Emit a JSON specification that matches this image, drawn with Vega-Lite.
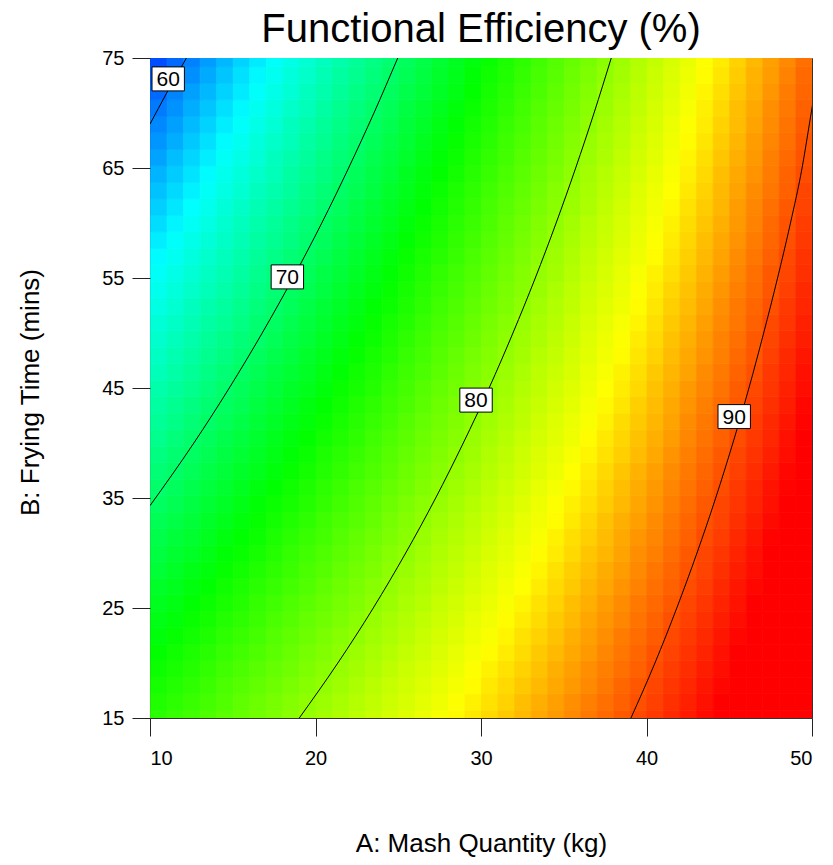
{
"$schema":"https://vega.github.io/schema/vega-lite/v6.json",
"width":662,"height":660,"autosize":"none",
"padding":{"left":150,"top":58,"right":21,"bottom":147},
"background":"white",
"title":{"text":"Functional Efficiency (%)","font":"Liberation Sans","fontSize":40,"fontWeight":"normal","color":"black","anchor":"middle","frame":"group","offset":-2},
"config":{"view":{"stroke":"#333","strokeWidth":1},
"axis":{"labelFont":"Liberation Sans","labelFontSize":20,"labelColor":"black","titleFont":"Liberation Sans","titleFontSize":26,"titleFontWeight":"normal","titleColor":"black","tickColor":"#222","tickSize":18,"domain":false,"grid":false}},
"datasets":{
"grid":[
{"a":10.5,"b":15,"e":75.7},{"a":11.5,"b":15,"e":76.2},{"a":12.5,"b":15,"e":76.7},{"a":13.5,"b":15,"e":77.2},{"a":14.5,"b":15,"e":77.7},{"a":15.5,"b":15,"e":78.2},{"a":16.5,"b":15,"e":78.7},{"a":17.5,"b":15,"e":79.2},{"a":18.5,"b":15,"e":79.7},{"a":19.5,"b":15,"e":80.2},{"a":20.5,"b":15,"e":80.7},{"a":21.5,"b":15,"e":81.2},{"a":22.5,"b":15,"e":81.7},{"a":23.5,"b":15,"e":82.2},{"a":24.5,"b":15,"e":82.7},{"a":25.5,"b":15,"e":83.2},{"a":26.5,"b":15,"e":83.7},{"a":27.5,"b":15,"e":84.2},{"a":28.5,"b":15,"e":84.7},{"a":29.5,"b":15,"e":85.2},{"a":30.5,"b":15,"e":85.7},{"a":31.5,"b":15,"e":86.2},{"a":32.5,"b":15,"e":86.7},{"a":33.5,"b":15,"e":87.2},{"a":34.5,"b":15,"e":87.7},{"a":35.5,"b":15,"e":88.2},{"a":36.5,"b":15,"e":88.7},{"a":37.5,"b":15,"e":89.2},{"a":38.5,"b":15,"e":89.7},{"a":39.5,"b":15,"e":90.2},{"a":40.5,"b":15,"e":90.7},{"a":41.5,"b":15,"e":91.2},{"a":42.5,"b":15,"e":91.7},{"a":43.5,"b":15,"e":92.2},{"a":44.5,"b":15,"e":92.7},{"a":45.5,"b":15,"e":93.2},{"a":46.5,"b":15,"e":93.7},{"a":47.5,"b":15,"e":94.2},{"a":48.5,"b":15,"e":94.7},{"a":49.5,"b":15,"e":95.2},
{"a":10.5,"b":16.5,"e":75.3},{"a":11.5,"b":16.5,"e":75.8},{"a":12.5,"b":16.5,"e":76.3},{"a":13.5,"b":16.5,"e":76.8},{"a":14.5,"b":16.5,"e":77.3},{"a":15.5,"b":16.5,"e":77.9},{"a":16.5,"b":16.5,"e":78.4},{"a":17.5,"b":16.5,"e":78.9},{"a":18.5,"b":16.5,"e":79.4},{"a":19.5,"b":16.5,"e":79.9},{"a":20.5,"b":16.5,"e":80.4},{"a":21.5,"b":16.5,"e":80.9},{"a":22.5,"b":16.5,"e":81.4},{"a":23.5,"b":16.5,"e":81.9},{"a":24.5,"b":16.5,"e":82.4},{"a":25.5,"b":16.5,"e":82.9},{"a":26.5,"b":16.5,"e":83.4},{"a":27.5,"b":16.5,"e":83.9},{"a":28.5,"b":16.5,"e":84.4},{"a":29.5,"b":16.5,"e":84.9},{"a":30.5,"b":16.5,"e":85.4},{"a":31.5,"b":16.5,"e":85.9},{"a":32.5,"b":16.5,"e":86.5},{"a":33.5,"b":16.5,"e":87.0},{"a":34.5,"b":16.5,"e":87.5},{"a":35.5,"b":16.5,"e":88.0},{"a":36.5,"b":16.5,"e":88.5},{"a":37.5,"b":16.5,"e":89.0},{"a":38.5,"b":16.5,"e":89.5},{"a":39.5,"b":16.5,"e":90.0},{"a":40.5,"b":16.5,"e":90.5},{"a":41.5,"b":16.5,"e":91.0},{"a":42.5,"b":16.5,"e":91.5},{"a":43.5,"b":16.5,"e":92.0},{"a":44.5,"b":16.5,"e":92.5},{"a":45.5,"b":16.5,"e":93.0},{"a":46.5,"b":16.5,"e":93.5},{"a":47.5,"b":16.5,"e":94.0},{"a":48.5,"b":16.5,"e":94.5},{"a":49.5,"b":16.5,"e":95.1},
{"a":10.5,"b":18,"e":74.9},{"a":11.5,"b":18,"e":75.4},{"a":12.5,"b":18,"e":75.9},{"a":13.5,"b":18,"e":76.4},{"a":14.5,"b":18,"e":77.0},{"a":15.5,"b":18,"e":77.5},{"a":16.5,"b":18,"e":78.0},{"a":17.5,"b":18,"e":78.5},{"a":18.5,"b":18,"e":79.0},{"a":19.5,"b":18,"e":79.5},{"a":20.5,"b":18,"e":80.0},{"a":21.5,"b":18,"e":80.5},{"a":22.5,"b":18,"e":81.1},{"a":23.5,"b":18,"e":81.6},{"a":24.5,"b":18,"e":82.1},{"a":25.5,"b":18,"e":82.6},{"a":26.5,"b":18,"e":83.1},{"a":27.5,"b":18,"e":83.6},{"a":28.5,"b":18,"e":84.1},{"a":29.5,"b":18,"e":84.6},{"a":30.5,"b":18,"e":85.2},{"a":31.5,"b":18,"e":85.7},{"a":32.5,"b":18,"e":86.2},{"a":33.5,"b":18,"e":86.7},{"a":34.5,"b":18,"e":87.2},{"a":35.5,"b":18,"e":87.7},{"a":36.5,"b":18,"e":88.2},{"a":37.5,"b":18,"e":88.7},{"a":38.5,"b":18,"e":89.3},{"a":39.5,"b":18,"e":89.8},{"a":40.5,"b":18,"e":90.3},{"a":41.5,"b":18,"e":90.8},{"a":42.5,"b":18,"e":91.3},{"a":43.5,"b":18,"e":91.8},{"a":44.5,"b":18,"e":92.3},{"a":45.5,"b":18,"e":92.8},{"a":46.5,"b":18,"e":93.4},{"a":47.5,"b":18,"e":93.9},{"a":48.5,"b":18,"e":94.4},{"a":49.5,"b":18,"e":94.9},
{"a":10.5,"b":19.5,"e":74.5},{"a":11.5,"b":19.5,"e":75.0},{"a":12.5,"b":19.5,"e":75.5},{"a":13.5,"b":19.5,"e":76.0},{"a":14.5,"b":19.5,"e":76.6},{"a":15.5,"b":19.5,"e":77.1},{"a":16.5,"b":19.5,"e":77.6},{"a":17.5,"b":19.5,"e":78.1},{"a":18.5,"b":19.5,"e":78.6},{"a":19.5,"b":19.5,"e":79.2},{"a":20.5,"b":19.5,"e":79.7},{"a":21.5,"b":19.5,"e":80.2},{"a":22.5,"b":19.5,"e":80.7},{"a":23.5,"b":19.5,"e":81.2},{"a":24.5,"b":19.5,"e":81.8},{"a":25.5,"b":19.5,"e":82.3},{"a":26.5,"b":19.5,"e":82.8},{"a":27.5,"b":19.5,"e":83.3},{"a":28.5,"b":19.5,"e":83.8},{"a":29.5,"b":19.5,"e":84.4},{"a":30.5,"b":19.5,"e":84.9},{"a":31.5,"b":19.5,"e":85.4},{"a":32.5,"b":19.5,"e":85.9},{"a":33.5,"b":19.5,"e":86.4},{"a":34.5,"b":19.5,"e":87.0},{"a":35.5,"b":19.5,"e":87.5},{"a":36.5,"b":19.5,"e":88.0},{"a":37.5,"b":19.5,"e":88.5},{"a":38.5,"b":19.5,"e":89.0},{"a":39.5,"b":19.5,"e":89.5},{"a":40.5,"b":19.5,"e":90.1},{"a":41.5,"b":19.5,"e":90.6},{"a":42.5,"b":19.5,"e":91.1},{"a":43.5,"b":19.5,"e":91.6},{"a":44.5,"b":19.5,"e":92.1},{"a":45.5,"b":19.5,"e":92.7},{"a":46.5,"b":19.5,"e":93.2},{"a":47.5,"b":19.5,"e":93.7},{"a":48.5,"b":19.5,"e":94.2},{"a":49.5,"b":19.5,"e":94.7},
{"a":10.5,"b":21,"e":74.1},{"a":11.5,"b":21,"e":74.6},{"a":12.5,"b":21,"e":75.1},{"a":13.5,"b":21,"e":75.6},{"a":14.5,"b":21,"e":76.2},{"a":15.5,"b":21,"e":76.7},{"a":16.5,"b":21,"e":77.2},{"a":17.5,"b":21,"e":77.7},{"a":18.5,"b":21,"e":78.3},{"a":19.5,"b":21,"e":78.8},{"a":20.5,"b":21,"e":79.3},{"a":21.5,"b":21,"e":79.8},{"a":22.5,"b":21,"e":80.4},{"a":23.5,"b":21,"e":80.9},{"a":24.5,"b":21,"e":81.4},{"a":25.5,"b":21,"e":82.0},{"a":26.5,"b":21,"e":82.5},{"a":27.5,"b":21,"e":83.0},{"a":28.5,"b":21,"e":83.5},{"a":29.5,"b":21,"e":84.1},{"a":30.5,"b":21,"e":84.6},{"a":31.5,"b":21,"e":85.1},{"a":32.5,"b":21,"e":85.6},{"a":33.5,"b":21,"e":86.2},{"a":34.5,"b":21,"e":86.7},{"a":35.5,"b":21,"e":87.2},{"a":36.5,"b":21,"e":87.7},{"a":37.5,"b":21,"e":88.3},{"a":38.5,"b":21,"e":88.8},{"a":39.5,"b":21,"e":89.3},{"a":40.5,"b":21,"e":89.9},{"a":41.5,"b":21,"e":90.4},{"a":42.5,"b":21,"e":90.9},{"a":43.5,"b":21,"e":91.4},{"a":44.5,"b":21,"e":92.0},{"a":45.5,"b":21,"e":92.5},{"a":46.5,"b":21,"e":93.0},{"a":47.5,"b":21,"e":93.5},{"a":48.5,"b":21,"e":94.1},{"a":49.5,"b":21,"e":94.6},
{"a":10.5,"b":22.5,"e":73.6},{"a":11.5,"b":22.5,"e":74.2},{"a":12.5,"b":22.5,"e":74.7},{"a":13.5,"b":22.5,"e":75.2},{"a":14.5,"b":22.5,"e":75.8},{"a":15.5,"b":22.5,"e":76.3},{"a":16.5,"b":22.5,"e":76.8},{"a":17.5,"b":22.5,"e":77.4},{"a":18.5,"b":22.5,"e":77.9},{"a":19.5,"b":22.5,"e":78.4},{"a":20.5,"b":22.5,"e":79.0},{"a":21.5,"b":22.5,"e":79.5},{"a":22.5,"b":22.5,"e":80.0},{"a":23.5,"b":22.5,"e":80.6},{"a":24.5,"b":22.5,"e":81.1},{"a":25.5,"b":22.5,"e":81.6},{"a":26.5,"b":22.5,"e":82.2},{"a":27.5,"b":22.5,"e":82.7},{"a":28.5,"b":22.5,"e":83.2},{"a":29.5,"b":22.5,"e":83.8},{"a":30.5,"b":22.5,"e":84.3},{"a":31.5,"b":22.5,"e":84.8},{"a":32.5,"b":22.5,"e":85.4},{"a":33.5,"b":22.5,"e":85.9},{"a":34.5,"b":22.5,"e":86.4},{"a":35.5,"b":22.5,"e":87.0},{"a":36.5,"b":22.5,"e":87.5},{"a":37.5,"b":22.5,"e":88.0},{"a":38.5,"b":22.5,"e":88.6},{"a":39.5,"b":22.5,"e":89.1},{"a":40.5,"b":22.5,"e":89.6},{"a":41.5,"b":22.5,"e":90.2},{"a":42.5,"b":22.5,"e":90.7},{"a":43.5,"b":22.5,"e":91.2},{"a":44.5,"b":22.5,"e":91.8},{"a":45.5,"b":22.5,"e":92.3},{"a":46.5,"b":22.5,"e":92.8},{"a":47.5,"b":22.5,"e":93.4},{"a":48.5,"b":22.5,"e":93.9},{"a":49.5,"b":22.5,"e":94.4},
{"a":10.5,"b":24,"e":73.2},{"a":11.5,"b":24,"e":73.7},{"a":12.5,"b":24,"e":74.3},{"a":13.5,"b":24,"e":74.8},{"a":14.5,"b":24,"e":75.4},{"a":15.5,"b":24,"e":75.9},{"a":16.5,"b":24,"e":76.4},{"a":17.5,"b":24,"e":77.0},{"a":18.5,"b":24,"e":77.5},{"a":19.5,"b":24,"e":78.1},{"a":20.5,"b":24,"e":78.6},{"a":21.5,"b":24,"e":79.1},{"a":22.5,"b":24,"e":79.7},{"a":23.5,"b":24,"e":80.2},{"a":24.5,"b":24,"e":80.8},{"a":25.5,"b":24,"e":81.3},{"a":26.5,"b":24,"e":81.9},{"a":27.5,"b":24,"e":82.4},{"a":28.5,"b":24,"e":82.9},{"a":29.5,"b":24,"e":83.5},{"a":30.5,"b":24,"e":84.0},{"a":31.5,"b":24,"e":84.6},{"a":32.5,"b":24,"e":85.1},{"a":33.5,"b":24,"e":85.6},{"a":34.5,"b":24,"e":86.2},{"a":35.5,"b":24,"e":86.7},{"a":36.5,"b":24,"e":87.3},{"a":37.5,"b":24,"e":87.8},{"a":38.5,"b":24,"e":88.3},{"a":39.5,"b":24,"e":88.9},{"a":40.5,"b":24,"e":89.4},{"a":41.5,"b":24,"e":90.0},{"a":42.5,"b":24,"e":90.5},{"a":43.5,"b":24,"e":91.0},{"a":44.5,"b":24,"e":91.6},{"a":45.5,"b":24,"e":92.1},{"a":46.5,"b":24,"e":92.7},{"a":47.5,"b":24,"e":93.2},{"a":48.5,"b":24,"e":93.7},{"a":49.5,"b":24,"e":94.3},
{"a":10.5,"b":25.5,"e":72.8},{"a":11.5,"b":25.5,"e":73.3},{"a":12.5,"b":25.5,"e":73.9},{"a":13.5,"b":25.5,"e":74.4},{"a":14.5,"b":25.5,"e":75.0},{"a":15.5,"b":25.5,"e":75.5},{"a":16.5,"b":25.5,"e":76.1},{"a":17.5,"b":25.5,"e":76.6},{"a":18.5,"b":25.5,"e":77.2},{"a":19.5,"b":25.5,"e":77.7},{"a":20.5,"b":25.5,"e":78.3},{"a":21.5,"b":25.5,"e":78.8},{"a":22.5,"b":25.5,"e":79.3},{"a":23.5,"b":25.5,"e":79.9},{"a":24.5,"b":25.5,"e":80.4},{"a":25.5,"b":25.5,"e":81.0},{"a":26.5,"b":25.5,"e":81.5},{"a":27.5,"b":25.5,"e":82.1},{"a":28.5,"b":25.5,"e":82.6},{"a":29.5,"b":25.5,"e":83.2},{"a":30.5,"b":25.5,"e":83.7},{"a":31.5,"b":25.5,"e":84.3},{"a":32.5,"b":25.5,"e":84.8},{"a":33.5,"b":25.5,"e":85.4},{"a":34.5,"b":25.5,"e":85.9},{"a":35.5,"b":25.5,"e":86.5},{"a":36.5,"b":25.5,"e":87.0},{"a":37.5,"b":25.5,"e":87.6},{"a":38.5,"b":25.5,"e":88.1},{"a":39.5,"b":25.5,"e":88.7},{"a":40.5,"b":25.5,"e":89.2},{"a":41.5,"b":25.5,"e":89.7},{"a":42.5,"b":25.5,"e":90.3},{"a":43.5,"b":25.5,"e":90.8},{"a":44.5,"b":25.5,"e":91.4},{"a":45.5,"b":25.5,"e":91.9},{"a":46.5,"b":25.5,"e":92.5},{"a":47.5,"b":25.5,"e":93.0},{"a":48.5,"b":25.5,"e":93.6},{"a":49.5,"b":25.5,"e":94.1},
{"a":10.5,"b":27,"e":72.4},{"a":11.5,"b":27,"e":72.9},{"a":12.5,"b":27,"e":73.5},{"a":13.5,"b":27,"e":74.0},{"a":14.5,"b":27,"e":74.6},{"a":15.5,"b":27,"e":75.1},{"a":16.5,"b":27,"e":75.7},{"a":17.5,"b":27,"e":76.2},{"a":18.5,"b":27,"e":76.8},{"a":19.5,"b":27,"e":77.3},{"a":20.5,"b":27,"e":77.9},{"a":21.5,"b":27,"e":78.5},{"a":22.5,"b":27,"e":79.0},{"a":23.5,"b":27,"e":79.6},{"a":24.5,"b":27,"e":80.1},{"a":25.5,"b":27,"e":80.7},{"a":26.5,"b":27,"e":81.2},{"a":27.5,"b":27,"e":81.8},{"a":28.5,"b":27,"e":82.3},{"a":29.5,"b":27,"e":82.9},{"a":30.5,"b":27,"e":83.4},{"a":31.5,"b":27,"e":84.0},{"a":32.5,"b":27,"e":84.5},{"a":33.5,"b":27,"e":85.1},{"a":34.5,"b":27,"e":85.7},{"a":35.5,"b":27,"e":86.2},{"a":36.5,"b":27,"e":86.8},{"a":37.5,"b":27,"e":87.3},{"a":38.5,"b":27,"e":87.9},{"a":39.5,"b":27,"e":88.4},{"a":40.5,"b":27,"e":89.0},{"a":41.5,"b":27,"e":89.5},{"a":42.5,"b":27,"e":90.1},{"a":43.5,"b":27,"e":90.6},{"a":44.5,"b":27,"e":91.2},{"a":45.5,"b":27,"e":91.8},{"a":46.5,"b":27,"e":92.3},{"a":47.5,"b":27,"e":92.9},{"a":48.5,"b":27,"e":93.4},{"a":49.5,"b":27,"e":94.0},
{"a":10.5,"b":28.5,"e":71.9},{"a":11.5,"b":28.5,"e":72.5},{"a":12.5,"b":28.5,"e":73.1},{"a":13.5,"b":28.5,"e":73.6},{"a":14.5,"b":28.5,"e":74.2},{"a":15.5,"b":28.5,"e":74.7},{"a":16.5,"b":28.5,"e":75.3},{"a":17.5,"b":28.5,"e":75.9},{"a":18.5,"b":28.5,"e":76.4},{"a":19.5,"b":28.5,"e":77.0},{"a":20.5,"b":28.5,"e":77.5},{"a":21.5,"b":28.5,"e":78.1},{"a":22.5,"b":28.5,"e":78.7},{"a":23.5,"b":28.5,"e":79.2},{"a":24.5,"b":28.5,"e":79.8},{"a":25.5,"b":28.5,"e":80.3},{"a":26.5,"b":28.5,"e":80.9},{"a":27.5,"b":28.5,"e":81.5},{"a":28.5,"b":28.5,"e":82.0},{"a":29.5,"b":28.5,"e":82.6},{"a":30.5,"b":28.5,"e":83.2},{"a":31.5,"b":28.5,"e":83.7},{"a":32.5,"b":28.5,"e":84.3},{"a":33.5,"b":28.5,"e":84.8},{"a":34.5,"b":28.5,"e":85.4},{"a":35.5,"b":28.5,"e":86.0},{"a":36.5,"b":28.5,"e":86.5},{"a":37.5,"b":28.5,"e":87.1},{"a":38.5,"b":28.5,"e":87.6},{"a":39.5,"b":28.5,"e":88.2},{"a":40.5,"b":28.5,"e":88.8},{"a":41.5,"b":28.5,"e":89.3},{"a":42.5,"b":28.5,"e":89.9},{"a":43.5,"b":28.5,"e":90.4},{"a":44.5,"b":28.5,"e":91.0},{"a":45.5,"b":28.5,"e":91.6},{"a":46.5,"b":28.5,"e":92.1},{"a":47.5,"b":28.5,"e":92.7},{"a":48.5,"b":28.5,"e":93.3},{"a":49.5,"b":28.5,"e":93.8},
{"a":10.5,"b":30,"e":71.5},{"a":11.5,"b":30,"e":72.1},{"a":12.5,"b":30,"e":72.6},{"a":13.5,"b":30,"e":73.2},{"a":14.5,"b":30,"e":73.8},{"a":15.5,"b":30,"e":74.3},{"a":16.5,"b":30,"e":74.9},{"a":17.5,"b":30,"e":75.5},{"a":18.5,"b":30,"e":76.1},{"a":19.5,"b":30,"e":76.6},{"a":20.5,"b":30,"e":77.2},{"a":21.5,"b":30,"e":77.8},{"a":22.5,"b":30,"e":78.3},{"a":23.5,"b":30,"e":78.9},{"a":24.5,"b":30,"e":79.5},{"a":25.5,"b":30,"e":80.0},{"a":26.5,"b":30,"e":80.6},{"a":27.5,"b":30,"e":81.2},{"a":28.5,"b":30,"e":81.7},{"a":29.5,"b":30,"e":82.3},{"a":30.5,"b":30,"e":82.9},{"a":31.5,"b":30,"e":83.4},{"a":32.5,"b":30,"e":84.0},{"a":33.5,"b":30,"e":84.6},{"a":34.5,"b":30,"e":85.1},{"a":35.5,"b":30,"e":85.7},{"a":36.5,"b":30,"e":86.3},{"a":37.5,"b":30,"e":86.8},{"a":38.5,"b":30,"e":87.4},{"a":39.5,"b":30,"e":88.0},{"a":40.5,"b":30,"e":88.5},{"a":41.5,"b":30,"e":89.1},{"a":42.5,"b":30,"e":89.7},{"a":43.5,"b":30,"e":90.3},{"a":44.5,"b":30,"e":90.8},{"a":45.5,"b":30,"e":91.4},{"a":46.5,"b":30,"e":92.0},{"a":47.5,"b":30,"e":92.5},{"a":48.5,"b":30,"e":93.1},{"a":49.5,"b":30,"e":93.7},
{"a":10.5,"b":31.5,"e":71.1},{"a":11.5,"b":31.5,"e":71.7},{"a":12.5,"b":31.5,"e":72.2},{"a":13.5,"b":31.5,"e":72.8},{"a":14.5,"b":31.5,"e":73.4},{"a":15.5,"b":31.5,"e":74.0},{"a":16.5,"b":31.5,"e":74.5},{"a":17.5,"b":31.5,"e":75.1},{"a":18.5,"b":31.5,"e":75.7},{"a":19.5,"b":31.5,"e":76.3},{"a":20.5,"b":31.5,"e":76.8},{"a":21.5,"b":31.5,"e":77.4},{"a":22.5,"b":31.5,"e":78.0},{"a":23.5,"b":31.5,"e":78.6},{"a":24.5,"b":31.5,"e":79.1},{"a":25.5,"b":31.5,"e":79.7},{"a":26.5,"b":31.5,"e":80.3},{"a":27.5,"b":31.5,"e":80.9},{"a":28.5,"b":31.5,"e":81.4},{"a":29.5,"b":31.5,"e":82.0},{"a":30.5,"b":31.5,"e":82.6},{"a":31.5,"b":31.5,"e":83.2},{"a":32.5,"b":31.5,"e":83.7},{"a":33.5,"b":31.5,"e":84.3},{"a":34.5,"b":31.5,"e":84.9},{"a":35.5,"b":31.5,"e":85.5},{"a":36.5,"b":31.5,"e":86.0},{"a":37.5,"b":31.5,"e":86.6},{"a":38.5,"b":31.5,"e":87.2},{"a":39.5,"b":31.5,"e":87.8},{"a":40.5,"b":31.5,"e":88.3},{"a":41.5,"b":31.5,"e":88.9},{"a":42.5,"b":31.5,"e":89.5},{"a":43.5,"b":31.5,"e":90.1},{"a":44.5,"b":31.5,"e":90.6},{"a":45.5,"b":31.5,"e":91.2},{"a":46.5,"b":31.5,"e":91.8},{"a":47.5,"b":31.5,"e":92.4},{"a":48.5,"b":31.5,"e":92.9},{"a":49.5,"b":31.5,"e":93.5},
{"a":10.5,"b":33,"e":70.7},{"a":11.5,"b":33,"e":71.2},{"a":12.5,"b":33,"e":71.8},{"a":13.5,"b":33,"e":72.4},{"a":14.5,"b":33,"e":73.0},{"a":15.5,"b":33,"e":73.6},{"a":16.5,"b":33,"e":74.2},{"a":17.5,"b":33,"e":74.7},{"a":18.5,"b":33,"e":75.3},{"a":19.5,"b":33,"e":75.9},{"a":20.5,"b":33,"e":76.5},{"a":21.5,"b":33,"e":77.1},{"a":22.5,"b":33,"e":77.6},{"a":23.5,"b":33,"e":78.2},{"a":24.5,"b":33,"e":78.8},{"a":25.5,"b":33,"e":79.4},{"a":26.5,"b":33,"e":80.0},{"a":27.5,"b":33,"e":80.6},{"a":28.5,"b":33,"e":81.1},{"a":29.5,"b":33,"e":81.7},{"a":30.5,"b":33,"e":82.3},{"a":31.5,"b":33,"e":82.9},{"a":32.5,"b":33,"e":83.5},{"a":33.5,"b":33,"e":84.0},{"a":34.5,"b":33,"e":84.6},{"a":35.5,"b":33,"e":85.2},{"a":36.5,"b":33,"e":85.8},{"a":37.5,"b":33,"e":86.4},{"a":38.5,"b":33,"e":87.0},{"a":39.5,"b":33,"e":87.5},{"a":40.5,"b":33,"e":88.1},{"a":41.5,"b":33,"e":88.7},{"a":42.5,"b":33,"e":89.3},{"a":43.5,"b":33,"e":89.9},{"a":44.5,"b":33,"e":90.4},{"a":45.5,"b":33,"e":91.0},{"a":46.5,"b":33,"e":91.6},{"a":47.5,"b":33,"e":92.2},{"a":48.5,"b":33,"e":92.8},{"a":49.5,"b":33,"e":93.4},
{"a":10.5,"b":34.5,"e":70.2},{"a":11.5,"b":34.5,"e":70.8},{"a":12.5,"b":34.5,"e":71.4},{"a":13.5,"b":34.5,"e":72.0},{"a":14.5,"b":34.5,"e":72.6},{"a":15.5,"b":34.5,"e":73.2},{"a":16.5,"b":34.5,"e":73.8},{"a":17.5,"b":34.5,"e":74.4},{"a":18.5,"b":34.5,"e":74.9},{"a":19.5,"b":34.5,"e":75.5},{"a":20.5,"b":34.5,"e":76.1},{"a":21.5,"b":34.5,"e":76.7},{"a":22.5,"b":34.5,"e":77.3},{"a":23.5,"b":34.5,"e":77.9},{"a":24.5,"b":34.5,"e":78.5},{"a":25.5,"b":34.5,"e":79.1},{"a":26.5,"b":34.5,"e":79.7},{"a":27.5,"b":34.5,"e":80.2},{"a":28.5,"b":34.5,"e":80.8},{"a":29.5,"b":34.5,"e":81.4},{"a":30.5,"b":34.5,"e":82.0},{"a":31.5,"b":34.5,"e":82.6},{"a":32.5,"b":34.5,"e":83.2},{"a":33.5,"b":34.5,"e":83.8},{"a":34.5,"b":34.5,"e":84.4},{"a":35.5,"b":34.5,"e":85.0},{"a":36.5,"b":34.5,"e":85.5},{"a":37.5,"b":34.5,"e":86.1},{"a":38.5,"b":34.5,"e":86.7},{"a":39.5,"b":34.5,"e":87.3},{"a":40.5,"b":34.5,"e":87.9},{"a":41.5,"b":34.5,"e":88.5},{"a":42.5,"b":34.5,"e":89.1},{"a":43.5,"b":34.5,"e":89.7},{"a":44.5,"b":34.5,"e":90.3},{"a":45.5,"b":34.5,"e":90.8},{"a":46.5,"b":34.5,"e":91.4},{"a":47.5,"b":34.5,"e":92.0},{"a":48.5,"b":34.5,"e":92.6},{"a":49.5,"b":34.5,"e":93.2},
{"a":10.5,"b":36,"e":69.8},{"a":11.5,"b":36,"e":70.4},{"a":12.5,"b":36,"e":71.0},{"a":13.5,"b":36,"e":71.6},{"a":14.5,"b":36,"e":72.2},{"a":15.5,"b":36,"e":72.8},{"a":16.5,"b":36,"e":73.4},{"a":17.5,"b":36,"e":74.0},{"a":18.5,"b":36,"e":74.6},{"a":19.5,"b":36,"e":75.2},{"a":20.5,"b":36,"e":75.8},{"a":21.5,"b":36,"e":76.4},{"a":22.5,"b":36,"e":77.0},{"a":23.5,"b":36,"e":77.6},{"a":24.5,"b":36,"e":78.2},{"a":25.5,"b":36,"e":78.7},{"a":26.5,"b":36,"e":79.3},{"a":27.5,"b":36,"e":79.9},{"a":28.5,"b":36,"e":80.5},{"a":29.5,"b":36,"e":81.1},{"a":30.5,"b":36,"e":81.7},{"a":31.5,"b":36,"e":82.3},{"a":32.5,"b":36,"e":82.9},{"a":33.5,"b":36,"e":83.5},{"a":34.5,"b":36,"e":84.1},{"a":35.5,"b":36,"e":84.7},{"a":36.5,"b":36,"e":85.3},{"a":37.5,"b":36,"e":85.9},{"a":38.5,"b":36,"e":86.5},{"a":39.5,"b":36,"e":87.1},{"a":40.5,"b":36,"e":87.7},{"a":41.5,"b":36,"e":88.3},{"a":42.5,"b":36,"e":88.9},{"a":43.5,"b":36,"e":89.5},{"a":44.5,"b":36,"e":90.1},{"a":45.5,"b":36,"e":90.7},{"a":46.5,"b":36,"e":91.3},{"a":47.5,"b":36,"e":91.9},{"a":48.5,"b":36,"e":92.4},{"a":49.5,"b":36,"e":93.0},
{"a":10.5,"b":37.5,"e":69.4},{"a":11.5,"b":37.5,"e":70.0},{"a":12.5,"b":37.5,"e":70.6},{"a":13.5,"b":37.5,"e":71.2},{"a":14.5,"b":37.5,"e":71.8},{"a":15.5,"b":37.5,"e":72.4},{"a":16.5,"b":37.5,"e":73.0},{"a":17.5,"b":37.5,"e":73.6},{"a":18.5,"b":37.5,"e":74.2},{"a":19.5,"b":37.5,"e":74.8},{"a":20.5,"b":37.5,"e":75.4},{"a":21.5,"b":37.5,"e":76.0},{"a":22.5,"b":37.5,"e":76.6},{"a":23.5,"b":37.5,"e":77.2},{"a":24.5,"b":37.5,"e":77.8},{"a":25.5,"b":37.5,"e":78.4},{"a":26.5,"b":37.5,"e":79.0},{"a":27.5,"b":37.5,"e":79.6},{"a":28.5,"b":37.5,"e":80.2},{"a":29.5,"b":37.5,"e":80.8},{"a":30.5,"b":37.5,"e":81.4},{"a":31.5,"b":37.5,"e":82.0},{"a":32.5,"b":37.5,"e":82.6},{"a":33.5,"b":37.5,"e":83.2},{"a":34.5,"b":37.5,"e":83.8},{"a":35.5,"b":37.5,"e":84.5},{"a":36.5,"b":37.5,"e":85.1},{"a":37.5,"b":37.5,"e":85.7},{"a":38.5,"b":37.5,"e":86.3},{"a":39.5,"b":37.5,"e":86.9},{"a":40.5,"b":37.5,"e":87.5},{"a":41.5,"b":37.5,"e":88.1},{"a":42.5,"b":37.5,"e":88.7},{"a":43.5,"b":37.5,"e":89.3},{"a":44.5,"b":37.5,"e":89.9},{"a":45.5,"b":37.5,"e":90.5},{"a":46.5,"b":37.5,"e":91.1},{"a":47.5,"b":37.5,"e":91.7},{"a":48.5,"b":37.5,"e":92.3},{"a":49.5,"b":37.5,"e":92.9},
{"a":10.5,"b":39,"e":69.0},{"a":11.5,"b":39,"e":69.6},{"a":12.5,"b":39,"e":70.2},{"a":13.5,"b":39,"e":70.8},{"a":14.5,"b":39,"e":71.4},{"a":15.5,"b":39,"e":72.0},{"a":16.5,"b":39,"e":72.6},{"a":17.5,"b":39,"e":73.2},{"a":18.5,"b":39,"e":73.8},{"a":19.5,"b":39,"e":74.4},{"a":20.5,"b":39,"e":75.1},{"a":21.5,"b":39,"e":75.7},{"a":22.5,"b":39,"e":76.3},{"a":23.5,"b":39,"e":76.9},{"a":24.5,"b":39,"e":77.5},{"a":25.5,"b":39,"e":78.1},{"a":26.5,"b":39,"e":78.7},{"a":27.5,"b":39,"e":79.3},{"a":28.5,"b":39,"e":79.9},{"a":29.5,"b":39,"e":80.5},{"a":30.5,"b":39,"e":81.2},{"a":31.5,"b":39,"e":81.8},{"a":32.5,"b":39,"e":82.4},{"a":33.5,"b":39,"e":83.0},{"a":34.5,"b":39,"e":83.6},{"a":35.5,"b":39,"e":84.2},{"a":36.5,"b":39,"e":84.8},{"a":37.5,"b":39,"e":85.4},{"a":38.5,"b":39,"e":86.0},{"a":39.5,"b":39,"e":86.6},{"a":40.5,"b":39,"e":87.2},{"a":41.5,"b":39,"e":87.9},{"a":42.5,"b":39,"e":88.5},{"a":43.5,"b":39,"e":89.1},{"a":44.5,"b":39,"e":89.7},{"a":45.5,"b":39,"e":90.3},{"a":46.5,"b":39,"e":90.9},{"a":47.5,"b":39,"e":91.5},{"a":48.5,"b":39,"e":92.1},{"a":49.5,"b":39,"e":92.7},
{"a":10.5,"b":40.5,"e":68.5},{"a":11.5,"b":40.5,"e":69.2},{"a":12.5,"b":40.5,"e":69.8},{"a":13.5,"b":40.5,"e":70.4},{"a":14.5,"b":40.5,"e":71.0},{"a":15.5,"b":40.5,"e":71.6},{"a":16.5,"b":40.5,"e":72.2},{"a":17.5,"b":40.5,"e":72.9},{"a":18.5,"b":40.5,"e":73.5},{"a":19.5,"b":40.5,"e":74.1},{"a":20.5,"b":40.5,"e":74.7},{"a":21.5,"b":40.5,"e":75.3},{"a":22.5,"b":40.5,"e":75.9},{"a":23.5,"b":40.5,"e":76.6},{"a":24.5,"b":40.5,"e":77.2},{"a":25.5,"b":40.5,"e":77.8},{"a":26.5,"b":40.5,"e":78.4},{"a":27.5,"b":40.5,"e":79.0},{"a":28.5,"b":40.5,"e":79.6},{"a":29.5,"b":40.5,"e":80.3},{"a":30.5,"b":40.5,"e":80.9},{"a":31.5,"b":40.5,"e":81.5},{"a":32.5,"b":40.5,"e":82.1},{"a":33.5,"b":40.5,"e":82.7},{"a":34.5,"b":40.5,"e":83.3},{"a":35.5,"b":40.5,"e":83.9},{"a":36.5,"b":40.5,"e":84.6},{"a":37.5,"b":40.5,"e":85.2},{"a":38.5,"b":40.5,"e":85.8},{"a":39.5,"b":40.5,"e":86.4},{"a":40.5,"b":40.5,"e":87.0},{"a":41.5,"b":40.5,"e":87.6},{"a":42.5,"b":40.5,"e":88.3},{"a":43.5,"b":40.5,"e":88.9},{"a":44.5,"b":40.5,"e":89.5},{"a":45.5,"b":40.5,"e":90.1},{"a":46.5,"b":40.5,"e":90.7},{"a":47.5,"b":40.5,"e":91.3},{"a":48.5,"b":40.5,"e":92.0},{"a":49.5,"b":40.5,"e":92.6},
{"a":10.5,"b":42,"e":68.1},{"a":11.5,"b":42,"e":68.7},{"a":12.5,"b":42,"e":69.4},{"a":13.5,"b":42,"e":70.0},{"a":14.5,"b":42,"e":70.6},{"a":15.5,"b":42,"e":71.2},{"a":16.5,"b":42,"e":71.9},{"a":17.5,"b":42,"e":72.5},{"a":18.5,"b":42,"e":73.1},{"a":19.5,"b":42,"e":73.7},{"a":20.5,"b":42,"e":74.3},{"a":21.5,"b":42,"e":75.0},{"a":22.5,"b":42,"e":75.6},{"a":23.5,"b":42,"e":76.2},{"a":24.5,"b":42,"e":76.8},{"a":25.5,"b":42,"e":77.5},{"a":26.5,"b":42,"e":78.1},{"a":27.5,"b":42,"e":78.7},{"a":28.5,"b":42,"e":79.3},{"a":29.5,"b":42,"e":80.0},{"a":30.5,"b":42,"e":80.6},{"a":31.5,"b":42,"e":81.2},{"a":32.5,"b":42,"e":81.8},{"a":33.5,"b":42,"e":82.5},{"a":34.5,"b":42,"e":83.1},{"a":35.5,"b":42,"e":83.7},{"a":36.5,"b":42,"e":84.3},{"a":37.5,"b":42,"e":84.9},{"a":38.5,"b":42,"e":85.6},{"a":39.5,"b":42,"e":86.2},{"a":40.5,"b":42,"e":86.8},{"a":41.5,"b":42,"e":87.4},{"a":42.5,"b":42,"e":88.1},{"a":43.5,"b":42,"e":88.7},{"a":44.5,"b":42,"e":89.3},{"a":45.5,"b":42,"e":89.9},{"a":46.5,"b":42,"e":90.6},{"a":47.5,"b":42,"e":91.2},{"a":48.5,"b":42,"e":91.8},{"a":49.5,"b":42,"e":92.4},
{"a":10.5,"b":43.5,"e":67.7},{"a":11.5,"b":43.5,"e":68.3},{"a":12.5,"b":43.5,"e":69.0},{"a":13.5,"b":43.5,"e":69.6},{"a":14.5,"b":43.5,"e":70.2},{"a":15.5,"b":43.5,"e":70.8},{"a":16.5,"b":43.5,"e":71.5},{"a":17.5,"b":43.5,"e":72.1},{"a":18.5,"b":43.5,"e":72.7},{"a":19.5,"b":43.5,"e":73.4},{"a":20.5,"b":43.5,"e":74.0},{"a":21.5,"b":43.5,"e":74.6},{"a":22.5,"b":43.5,"e":75.3},{"a":23.5,"b":43.5,"e":75.9},{"a":24.5,"b":43.5,"e":76.5},{"a":25.5,"b":43.5,"e":77.1},{"a":26.5,"b":43.5,"e":77.8},{"a":27.5,"b":43.5,"e":78.4},{"a":28.5,"b":43.5,"e":79.0},{"a":29.5,"b":43.5,"e":79.7},{"a":30.5,"b":43.5,"e":80.3},{"a":31.5,"b":43.5,"e":80.9},{"a":32.5,"b":43.5,"e":81.6},{"a":33.5,"b":43.5,"e":82.2},{"a":34.5,"b":43.5,"e":82.8},{"a":35.5,"b":43.5,"e":83.4},{"a":36.5,"b":43.5,"e":84.1},{"a":37.5,"b":43.5,"e":84.7},{"a":38.5,"b":43.5,"e":85.3},{"a":39.5,"b":43.5,"e":86.0},{"a":40.5,"b":43.5,"e":86.6},{"a":41.5,"b":43.5,"e":87.2},{"a":42.5,"b":43.5,"e":87.9},{"a":43.5,"b":43.5,"e":88.5},{"a":44.5,"b":43.5,"e":89.1},{"a":45.5,"b":43.5,"e":89.7},{"a":46.5,"b":43.5,"e":90.4},{"a":47.5,"b":43.5,"e":91.0},{"a":48.5,"b":43.5,"e":91.6},{"a":49.5,"b":43.5,"e":92.3},
{"a":10.5,"b":45,"e":67.3},{"a":11.5,"b":45,"e":67.9},{"a":12.5,"b":45,"e":68.5},{"a":13.5,"b":45,"e":69.2},{"a":14.5,"b":45,"e":69.8},{"a":15.5,"b":45,"e":70.5},{"a":16.5,"b":45,"e":71.1},{"a":17.5,"b":45,"e":71.7},{"a":18.5,"b":45,"e":72.4},{"a":19.5,"b":45,"e":73.0},{"a":20.5,"b":45,"e":73.6},{"a":21.5,"b":45,"e":74.3},{"a":22.5,"b":45,"e":74.9},{"a":23.5,"b":45,"e":75.5},{"a":24.5,"b":45,"e":76.2},{"a":25.5,"b":45,"e":76.8},{"a":26.5,"b":45,"e":77.5},{"a":27.5,"b":45,"e":78.1},{"a":28.5,"b":45,"e":78.7},{"a":29.5,"b":45,"e":79.4},{"a":30.5,"b":45,"e":80.0},{"a":31.5,"b":45,"e":80.6},{"a":32.5,"b":45,"e":81.3},{"a":33.5,"b":45,"e":81.9},{"a":34.5,"b":45,"e":82.6},{"a":35.5,"b":45,"e":83.2},{"a":36.5,"b":45,"e":83.8},{"a":37.5,"b":45,"e":84.5},{"a":38.5,"b":45,"e":85.1},{"a":39.5,"b":45,"e":85.7},{"a":40.5,"b":45,"e":86.4},{"a":41.5,"b":45,"e":87.0},{"a":42.5,"b":45,"e":87.7},{"a":43.5,"b":45,"e":88.3},{"a":44.5,"b":45,"e":88.9},{"a":45.5,"b":45,"e":89.6},{"a":46.5,"b":45,"e":90.2},{"a":47.5,"b":45,"e":90.8},{"a":48.5,"b":45,"e":91.5},{"a":49.5,"b":45,"e":92.1},
{"a":10.5,"b":46.5,"e":66.8},{"a":11.5,"b":46.5,"e":67.5},{"a":12.5,"b":46.5,"e":68.1},{"a":13.5,"b":46.5,"e":68.8},{"a":14.5,"b":46.5,"e":69.4},{"a":15.5,"b":46.5,"e":70.1},{"a":16.5,"b":46.5,"e":70.7},{"a":17.5,"b":46.5,"e":71.4},{"a":18.5,"b":46.5,"e":72.0},{"a":19.5,"b":46.5,"e":72.6},{"a":20.5,"b":46.5,"e":73.3},{"a":21.5,"b":46.5,"e":73.9},{"a":22.5,"b":46.5,"e":74.6},{"a":23.5,"b":46.5,"e":75.2},{"a":24.5,"b":46.5,"e":75.9},{"a":25.5,"b":46.5,"e":76.5},{"a":26.5,"b":46.5,"e":77.1},{"a":27.5,"b":46.5,"e":77.8},{"a":28.5,"b":46.5,"e":78.4},{"a":29.5,"b":46.5,"e":79.1},{"a":30.5,"b":46.5,"e":79.7},{"a":31.5,"b":46.5,"e":80.4},{"a":32.5,"b":46.5,"e":81.0},{"a":33.5,"b":46.5,"e":81.7},{"a":34.5,"b":46.5,"e":82.3},{"a":35.5,"b":46.5,"e":82.9},{"a":36.5,"b":46.5,"e":83.6},{"a":37.5,"b":46.5,"e":84.2},{"a":38.5,"b":46.5,"e":84.9},{"a":39.5,"b":46.5,"e":85.5},{"a":40.5,"b":46.5,"e":86.2},{"a":41.5,"b":46.5,"e":86.8},{"a":42.5,"b":46.5,"e":87.4},{"a":43.5,"b":46.5,"e":88.1},{"a":44.5,"b":46.5,"e":88.7},{"a":45.5,"b":46.5,"e":89.4},{"a":46.5,"b":46.5,"e":90.0},{"a":47.5,"b":46.5,"e":90.7},{"a":48.5,"b":46.5,"e":91.3},{"a":49.5,"b":46.5,"e":92.0},
{"a":10.5,"b":48,"e":66.4},{"a":11.5,"b":48,"e":67.1},{"a":12.5,"b":48,"e":67.7},{"a":13.5,"b":48,"e":68.4},{"a":14.5,"b":48,"e":69.0},{"a":15.5,"b":48,"e":69.7},{"a":16.5,"b":48,"e":70.3},{"a":17.5,"b":48,"e":71.0},{"a":18.5,"b":48,"e":71.6},{"a":19.5,"b":48,"e":72.3},{"a":20.5,"b":48,"e":72.9},{"a":21.5,"b":48,"e":73.6},{"a":22.5,"b":48,"e":74.2},{"a":23.5,"b":48,"e":74.9},{"a":24.5,"b":48,"e":75.5},{"a":25.5,"b":48,"e":76.2},{"a":26.5,"b":48,"e":76.8},{"a":27.5,"b":48,"e":77.5},{"a":28.5,"b":48,"e":78.1},{"a":29.5,"b":48,"e":78.8},{"a":30.5,"b":48,"e":79.4},{"a":31.5,"b":48,"e":80.1},{"a":32.5,"b":48,"e":80.7},{"a":33.5,"b":48,"e":81.4},{"a":34.5,"b":48,"e":82.0},{"a":35.5,"b":48,"e":82.7},{"a":36.5,"b":48,"e":83.3},{"a":37.5,"b":48,"e":84.0},{"a":38.5,"b":48,"e":84.6},{"a":39.5,"b":48,"e":85.3},{"a":40.5,"b":48,"e":85.9},{"a":41.5,"b":48,"e":86.6},{"a":42.5,"b":48,"e":87.2},{"a":43.5,"b":48,"e":87.9},{"a":44.5,"b":48,"e":88.5},{"a":45.5,"b":48,"e":89.2},{"a":46.5,"b":48,"e":89.8},{"a":47.5,"b":48,"e":90.5},{"a":48.5,"b":48,"e":91.2},{"a":49.5,"b":48,"e":91.8},
{"a":10.5,"b":49.5,"e":66.0},{"a":11.5,"b":49.5,"e":66.7},{"a":12.5,"b":49.5,"e":67.3},{"a":13.5,"b":49.5,"e":68.0},{"a":14.5,"b":49.5,"e":68.6},{"a":15.5,"b":49.5,"e":69.3},{"a":16.5,"b":49.5,"e":69.9},{"a":17.5,"b":49.5,"e":70.6},{"a":18.5,"b":49.5,"e":71.3},{"a":19.5,"b":49.5,"e":71.9},{"a":20.5,"b":49.5,"e":72.6},{"a":21.5,"b":49.5,"e":73.2},{"a":22.5,"b":49.5,"e":73.9},{"a":23.5,"b":49.5,"e":74.5},{"a":24.5,"b":49.5,"e":75.2},{"a":25.5,"b":49.5,"e":75.9},{"a":26.5,"b":49.5,"e":76.5},{"a":27.5,"b":49.5,"e":77.2},{"a":28.5,"b":49.5,"e":77.8},{"a":29.5,"b":49.5,"e":78.5},{"a":30.5,"b":49.5,"e":79.2},{"a":31.5,"b":49.5,"e":79.8},{"a":32.5,"b":49.5,"e":80.5},{"a":33.5,"b":49.5,"e":81.1},{"a":34.5,"b":49.5,"e":81.8},{"a":35.5,"b":49.5,"e":82.4},{"a":36.5,"b":49.5,"e":83.1},{"a":37.5,"b":49.5,"e":83.8},{"a":38.5,"b":49.5,"e":84.4},{"a":39.5,"b":49.5,"e":85.1},{"a":40.5,"b":49.5,"e":85.7},{"a":41.5,"b":49.5,"e":86.4},{"a":42.5,"b":49.5,"e":87.0},{"a":43.5,"b":49.5,"e":87.7},{"a":44.5,"b":49.5,"e":88.4},{"a":45.5,"b":49.5,"e":89.0},{"a":46.5,"b":49.5,"e":89.7},{"a":47.5,"b":49.5,"e":90.3},{"a":48.5,"b":49.5,"e":91.0},{"a":49.5,"b":49.5,"e":91.6},
{"a":10.5,"b":51,"e":65.6},{"a":11.5,"b":51,"e":66.2},{"a":12.5,"b":51,"e":66.9},{"a":13.5,"b":51,"e":67.6},{"a":14.5,"b":51,"e":68.2},{"a":15.5,"b":51,"e":68.9},{"a":16.5,"b":51,"e":69.6},{"a":17.5,"b":51,"e":70.2},{"a":18.5,"b":51,"e":70.9},{"a":19.5,"b":51,"e":71.6},{"a":20.5,"b":51,"e":72.2},{"a":21.5,"b":51,"e":72.9},{"a":22.5,"b":51,"e":73.5},{"a":23.5,"b":51,"e":74.2},{"a":24.5,"b":51,"e":74.9},{"a":25.5,"b":51,"e":75.5},{"a":26.5,"b":51,"e":76.2},{"a":27.5,"b":51,"e":76.9},{"a":28.5,"b":51,"e":77.5},{"a":29.5,"b":51,"e":78.2},{"a":30.5,"b":51,"e":78.9},{"a":31.5,"b":51,"e":79.5},{"a":32.5,"b":51,"e":80.2},{"a":33.5,"b":51,"e":80.9},{"a":34.5,"b":51,"e":81.5},{"a":35.5,"b":51,"e":82.2},{"a":36.5,"b":51,"e":82.9},{"a":37.5,"b":51,"e":83.5},{"a":38.5,"b":51,"e":84.2},{"a":39.5,"b":51,"e":84.8},{"a":40.5,"b":51,"e":85.5},{"a":41.5,"b":51,"e":86.2},{"a":42.5,"b":51,"e":86.8},{"a":43.5,"b":51,"e":87.5},{"a":44.5,"b":51,"e":88.2},{"a":45.5,"b":51,"e":88.8},{"a":46.5,"b":51,"e":89.5},{"a":47.5,"b":51,"e":90.2},{"a":48.5,"b":51,"e":90.8},{"a":49.5,"b":51,"e":91.5},
{"a":10.5,"b":52.5,"e":65.1},{"a":11.5,"b":52.5,"e":65.8},{"a":12.5,"b":52.5,"e":66.5},{"a":13.5,"b":52.5,"e":67.2},{"a":14.5,"b":52.5,"e":67.8},{"a":15.5,"b":52.5,"e":68.5},{"a":16.5,"b":52.5,"e":69.2},{"a":17.5,"b":52.5,"e":69.8},{"a":18.5,"b":52.5,"e":70.5},{"a":19.5,"b":52.5,"e":71.2},{"a":20.5,"b":52.5,"e":71.9},{"a":21.5,"b":52.5,"e":72.5},{"a":22.5,"b":52.5,"e":73.2},{"a":23.5,"b":52.5,"e":73.9},{"a":24.5,"b":52.5,"e":74.5},{"a":25.5,"b":52.5,"e":75.2},{"a":26.5,"b":52.5,"e":75.9},{"a":27.5,"b":52.5,"e":76.6},{"a":28.5,"b":52.5,"e":77.2},{"a":29.5,"b":52.5,"e":77.9},{"a":30.5,"b":52.5,"e":78.6},{"a":31.5,"b":52.5,"e":79.2},{"a":32.5,"b":52.5,"e":79.9},{"a":33.5,"b":52.5,"e":80.6},{"a":34.5,"b":52.5,"e":81.3},{"a":35.5,"b":52.5,"e":81.9},{"a":36.5,"b":52.5,"e":82.6},{"a":37.5,"b":52.5,"e":83.3},{"a":38.5,"b":52.5,"e":83.9},{"a":39.5,"b":52.5,"e":84.6},{"a":40.5,"b":52.5,"e":85.3},{"a":41.5,"b":52.5,"e":86.0},{"a":42.5,"b":52.5,"e":86.6},{"a":43.5,"b":52.5,"e":87.3},{"a":44.5,"b":52.5,"e":88.0},{"a":45.5,"b":52.5,"e":88.7},{"a":46.5,"b":52.5,"e":89.3},{"a":47.5,"b":52.5,"e":90.0},{"a":48.5,"b":52.5,"e":90.7},{"a":49.5,"b":52.5,"e":91.3},
{"a":10.5,"b":54,"e":64.7},{"a":11.5,"b":54,"e":65.4},{"a":12.5,"b":54,"e":66.1},{"a":13.5,"b":54,"e":66.8},{"a":14.5,"b":54,"e":67.4},{"a":15.5,"b":54,"e":68.1},{"a":16.5,"b":54,"e":68.8},{"a":17.5,"b":54,"e":69.5},{"a":18.5,"b":54,"e":70.2},{"a":19.5,"b":54,"e":70.8},{"a":20.5,"b":54,"e":71.5},{"a":21.5,"b":54,"e":72.2},{"a":22.5,"b":54,"e":72.9},{"a":23.5,"b":54,"e":73.5},{"a":24.5,"b":54,"e":74.2},{"a":25.5,"b":54,"e":74.9},{"a":26.5,"b":54,"e":75.6},{"a":27.5,"b":54,"e":76.3},{"a":28.5,"b":54,"e":76.9},{"a":29.5,"b":54,"e":77.6},{"a":30.5,"b":54,"e":78.3},{"a":31.5,"b":54,"e":79.0},{"a":32.5,"b":54,"e":79.6},{"a":33.5,"b":54,"e":80.3},{"a":34.5,"b":54,"e":81.0},{"a":35.5,"b":54,"e":81.7},{"a":36.5,"b":54,"e":82.4},{"a":37.5,"b":54,"e":83.0},{"a":38.5,"b":54,"e":83.7},{"a":39.5,"b":54,"e":84.4},{"a":40.5,"b":54,"e":85.1},{"a":41.5,"b":54,"e":85.8},{"a":42.5,"b":54,"e":86.4},{"a":43.5,"b":54,"e":87.1},{"a":44.5,"b":54,"e":87.8},{"a":45.5,"b":54,"e":88.5},{"a":46.5,"b":54,"e":89.1},{"a":47.5,"b":54,"e":89.8},{"a":48.5,"b":54,"e":90.5},{"a":49.5,"b":54,"e":91.2},
{"a":10.5,"b":55.5,"e":64.3},{"a":11.5,"b":55.5,"e":65.0},{"a":12.5,"b":55.5,"e":65.7},{"a":13.5,"b":55.5,"e":66.4},{"a":14.5,"b":55.5,"e":67.0},{"a":15.5,"b":55.5,"e":67.7},{"a":16.5,"b":55.5,"e":68.4},{"a":17.5,"b":55.5,"e":69.1},{"a":18.5,"b":55.5,"e":69.8},{"a":19.5,"b":55.5,"e":70.5},{"a":20.5,"b":55.5,"e":71.2},{"a":21.5,"b":55.5,"e":71.8},{"a":22.5,"b":55.5,"e":72.5},{"a":23.5,"b":55.5,"e":73.2},{"a":24.5,"b":55.5,"e":73.9},{"a":25.5,"b":55.5,"e":74.6},{"a":26.5,"b":55.5,"e":75.3},{"a":27.5,"b":55.5,"e":76.0},{"a":28.5,"b":55.5,"e":76.6},{"a":29.5,"b":55.5,"e":77.3},{"a":30.5,"b":55.5,"e":78.0},{"a":31.5,"b":55.5,"e":78.7},{"a":32.5,"b":55.5,"e":79.4},{"a":33.5,"b":55.5,"e":80.1},{"a":34.5,"b":55.5,"e":80.7},{"a":35.5,"b":55.5,"e":81.4},{"a":36.5,"b":55.5,"e":82.1},{"a":37.5,"b":55.5,"e":82.8},{"a":38.5,"b":55.5,"e":83.5},{"a":39.5,"b":55.5,"e":84.2},{"a":40.5,"b":55.5,"e":84.9},{"a":41.5,"b":55.5,"e":85.5},{"a":42.5,"b":55.5,"e":86.2},{"a":43.5,"b":55.5,"e":86.9},{"a":44.5,"b":55.5,"e":87.6},{"a":45.5,"b":55.5,"e":88.3},{"a":46.5,"b":55.5,"e":89.0},{"a":47.5,"b":55.5,"e":89.7},{"a":48.5,"b":55.5,"e":90.3},{"a":49.5,"b":55.5,"e":91.0},
{"a":10.5,"b":57,"e":63.9},{"a":11.5,"b":57,"e":64.6},{"a":12.5,"b":57,"e":65.3},{"a":13.5,"b":57,"e":66.0},{"a":14.5,"b":57,"e":66.6},{"a":15.5,"b":57,"e":67.3},{"a":16.5,"b":57,"e":68.0},{"a":17.5,"b":57,"e":68.7},{"a":18.5,"b":57,"e":69.4},{"a":19.5,"b":57,"e":70.1},{"a":20.5,"b":57,"e":70.8},{"a":21.5,"b":57,"e":71.5},{"a":22.5,"b":57,"e":72.2},{"a":23.5,"b":57,"e":72.9},{"a":24.5,"b":57,"e":73.6},{"a":25.5,"b":57,"e":74.3},{"a":26.5,"b":57,"e":75.0},{"a":27.5,"b":57,"e":75.6},{"a":28.5,"b":57,"e":76.3},{"a":29.5,"b":57,"e":77.0},{"a":30.5,"b":57,"e":77.7},{"a":31.5,"b":57,"e":78.4},{"a":32.5,"b":57,"e":79.1},{"a":33.5,"b":57,"e":79.8},{"a":34.5,"b":57,"e":80.5},{"a":35.5,"b":57,"e":81.2},{"a":36.5,"b":57,"e":81.9},{"a":37.5,"b":57,"e":82.6},{"a":38.5,"b":57,"e":83.3},{"a":39.5,"b":57,"e":83.9},{"a":40.5,"b":57,"e":84.6},{"a":41.5,"b":57,"e":85.3},{"a":42.5,"b":57,"e":86.0},{"a":43.5,"b":57,"e":86.7},{"a":44.5,"b":57,"e":87.4},{"a":45.5,"b":57,"e":88.1},{"a":46.5,"b":57,"e":88.8},{"a":47.5,"b":57,"e":89.5},{"a":48.5,"b":57,"e":90.2},{"a":49.5,"b":57,"e":90.9},
{"a":10.5,"b":58.5,"e":63.5},{"a":11.5,"b":58.5,"e":64.2},{"a":12.5,"b":58.5,"e":64.9},{"a":13.5,"b":58.5,"e":65.5},{"a":14.5,"b":58.5,"e":66.2},{"a":15.5,"b":58.5,"e":66.9},{"a":16.5,"b":58.5,"e":67.6},{"a":17.5,"b":58.5,"e":68.3},{"a":18.5,"b":58.5,"e":69.0},{"a":19.5,"b":58.5,"e":69.7},{"a":20.5,"b":58.5,"e":70.4},{"a":21.5,"b":58.5,"e":71.1},{"a":22.5,"b":58.5,"e":71.8},{"a":23.5,"b":58.5,"e":72.5},{"a":24.5,"b":58.5,"e":73.2},{"a":25.5,"b":58.5,"e":73.9},{"a":26.5,"b":58.5,"e":74.6},{"a":27.5,"b":58.5,"e":75.3},{"a":28.5,"b":58.5,"e":76.0},{"a":29.5,"b":58.5,"e":76.7},{"a":30.5,"b":58.5,"e":77.4},{"a":31.5,"b":58.5,"e":78.1},{"a":32.5,"b":58.5,"e":78.8},{"a":33.5,"b":58.5,"e":79.5},{"a":34.5,"b":58.5,"e":80.2},{"a":35.5,"b":58.5,"e":80.9},{"a":36.5,"b":58.5,"e":81.6},{"a":37.5,"b":58.5,"e":82.3},{"a":38.5,"b":58.5,"e":83.0},{"a":39.5,"b":58.5,"e":83.7},{"a":40.5,"b":58.5,"e":84.4},{"a":41.5,"b":58.5,"e":85.1},{"a":42.5,"b":58.5,"e":85.8},{"a":43.5,"b":58.5,"e":86.5},{"a":44.5,"b":58.5,"e":87.2},{"a":45.5,"b":58.5,"e":87.9},{"a":46.5,"b":58.5,"e":88.6},{"a":47.5,"b":58.5,"e":89.3},{"a":48.5,"b":58.5,"e":90.0},{"a":49.5,"b":58.5,"e":90.7},
{"a":10.5,"b":60,"e":63.0},{"a":11.5,"b":60,"e":63.7},{"a":12.5,"b":60,"e":64.4},{"a":13.5,"b":60,"e":65.1},{"a":14.5,"b":60,"e":65.9},{"a":15.5,"b":60,"e":66.6},{"a":16.5,"b":60,"e":67.3},{"a":17.5,"b":60,"e":68.0},{"a":18.5,"b":60,"e":68.7},{"a":19.5,"b":60,"e":69.4},{"a":20.5,"b":60,"e":70.1},{"a":21.5,"b":60,"e":70.8},{"a":22.5,"b":60,"e":71.5},{"a":23.5,"b":60,"e":72.2},{"a":24.5,"b":60,"e":72.9},{"a":25.5,"b":60,"e":73.6},{"a":26.5,"b":60,"e":74.3},{"a":27.5,"b":60,"e":75.0},{"a":28.5,"b":60,"e":75.7},{"a":29.5,"b":60,"e":76.4},{"a":30.5,"b":60,"e":77.1},{"a":31.5,"b":60,"e":77.9},{"a":32.5,"b":60,"e":78.6},{"a":33.5,"b":60,"e":79.3},{"a":34.5,"b":60,"e":80.0},{"a":35.5,"b":60,"e":80.7},{"a":36.5,"b":60,"e":81.4},{"a":37.5,"b":60,"e":82.1},{"a":38.5,"b":60,"e":82.8},{"a":39.5,"b":60,"e":83.5},{"a":40.5,"b":60,"e":84.2},{"a":41.5,"b":60,"e":84.9},{"a":42.5,"b":60,"e":85.6},{"a":43.5,"b":60,"e":86.3},{"a":44.5,"b":60,"e":87.0},{"a":45.5,"b":60,"e":87.7},{"a":46.5,"b":60,"e":88.4},{"a":47.5,"b":60,"e":89.2},{"a":48.5,"b":60,"e":89.9},{"a":49.5,"b":60,"e":90.6},
{"a":10.5,"b":61.5,"e":62.6},{"a":11.5,"b":61.5,"e":63.3},{"a":12.5,"b":61.5,"e":64.0},{"a":13.5,"b":61.5,"e":64.7},{"a":14.5,"b":61.5,"e":65.5},{"a":15.5,"b":61.5,"e":66.2},{"a":16.5,"b":61.5,"e":66.9},{"a":17.5,"b":61.5,"e":67.6},{"a":18.5,"b":61.5,"e":68.3},{"a":19.5,"b":61.5,"e":69.0},{"a":20.5,"b":61.5,"e":69.7},{"a":21.5,"b":61.5,"e":70.4},{"a":22.5,"b":61.5,"e":71.2},{"a":23.5,"b":61.5,"e":71.9},{"a":24.5,"b":61.5,"e":72.6},{"a":25.5,"b":61.5,"e":73.3},{"a":26.5,"b":61.5,"e":74.0},{"a":27.5,"b":61.5,"e":74.7},{"a":28.5,"b":61.5,"e":75.4},{"a":29.5,"b":61.5,"e":76.1},{"a":30.5,"b":61.5,"e":76.9},{"a":31.5,"b":61.5,"e":77.6},{"a":32.5,"b":61.5,"e":78.3},{"a":33.5,"b":61.5,"e":79.0},{"a":34.5,"b":61.5,"e":79.7},{"a":35.5,"b":61.5,"e":80.4},{"a":36.5,"b":61.5,"e":81.1},{"a":37.5,"b":61.5,"e":81.9},{"a":38.5,"b":61.5,"e":82.6},{"a":39.5,"b":61.5,"e":83.3},{"a":40.5,"b":61.5,"e":84.0},{"a":41.5,"b":61.5,"e":84.7},{"a":42.5,"b":61.5,"e":85.4},{"a":43.5,"b":61.5,"e":86.1},{"a":44.5,"b":61.5,"e":86.8},{"a":45.5,"b":61.5,"e":87.6},{"a":46.5,"b":61.5,"e":88.3},{"a":47.5,"b":61.5,"e":89.0},{"a":48.5,"b":61.5,"e":89.7},{"a":49.5,"b":61.5,"e":90.4},
{"a":10.5,"b":63,"e":62.2},{"a":11.5,"b":63,"e":62.9},{"a":12.5,"b":63,"e":63.6},{"a":13.5,"b":63,"e":64.3},{"a":14.5,"b":63,"e":65.1},{"a":15.5,"b":63,"e":65.8},{"a":16.5,"b":63,"e":66.5},{"a":17.5,"b":63,"e":67.2},{"a":18.5,"b":63,"e":67.9},{"a":19.5,"b":63,"e":68.7},{"a":20.5,"b":63,"e":69.4},{"a":21.5,"b":63,"e":70.1},{"a":22.5,"b":63,"e":70.8},{"a":23.5,"b":63,"e":71.5},{"a":24.5,"b":63,"e":72.3},{"a":25.5,"b":63,"e":73.0},{"a":26.5,"b":63,"e":73.7},{"a":27.5,"b":63,"e":74.4},{"a":28.5,"b":63,"e":75.1},{"a":29.5,"b":63,"e":75.9},{"a":30.5,"b":63,"e":76.6},{"a":31.5,"b":63,"e":77.3},{"a":32.5,"b":63,"e":78.0},{"a":33.5,"b":63,"e":78.7},{"a":34.5,"b":63,"e":79.5},{"a":35.5,"b":63,"e":80.2},{"a":36.5,"b":63,"e":80.9},{"a":37.5,"b":63,"e":81.6},{"a":38.5,"b":63,"e":82.3},{"a":39.5,"b":63,"e":83.1},{"a":40.5,"b":63,"e":83.8},{"a":41.5,"b":63,"e":84.5},{"a":42.5,"b":63,"e":85.2},{"a":43.5,"b":63,"e":85.9},{"a":44.5,"b":63,"e":86.7},{"a":45.5,"b":63,"e":87.4},{"a":46.5,"b":63,"e":88.1},{"a":47.5,"b":63,"e":88.8},{"a":48.5,"b":63,"e":89.5},{"a":49.5,"b":63,"e":90.3},
{"a":10.5,"b":64.5,"e":61.8},{"a":11.5,"b":64.5,"e":62.5},{"a":12.5,"b":64.5,"e":63.2},{"a":13.5,"b":64.5,"e":63.9},{"a":14.5,"b":64.5,"e":64.7},{"a":15.5,"b":64.5,"e":65.4},{"a":16.5,"b":64.5,"e":66.1},{"a":17.5,"b":64.5,"e":66.8},{"a":18.5,"b":64.5,"e":67.6},{"a":19.5,"b":64.5,"e":68.3},{"a":20.5,"b":64.5,"e":69.0},{"a":21.5,"b":64.5,"e":69.7},{"a":22.5,"b":64.5,"e":70.5},{"a":23.5,"b":64.5,"e":71.2},{"a":24.5,"b":64.5,"e":71.9},{"a":25.5,"b":64.5,"e":72.7},{"a":26.5,"b":64.5,"e":73.4},{"a":27.5,"b":64.5,"e":74.1},{"a":28.5,"b":64.5,"e":74.8},{"a":29.5,"b":64.5,"e":75.6},{"a":30.5,"b":64.5,"e":76.3},{"a":31.5,"b":64.5,"e":77.0},{"a":32.5,"b":64.5,"e":77.7},{"a":33.5,"b":64.5,"e":78.5},{"a":34.5,"b":64.5,"e":79.2},{"a":35.5,"b":64.5,"e":79.9},{"a":36.5,"b":64.5,"e":80.7},{"a":37.5,"b":64.5,"e":81.4},{"a":38.5,"b":64.5,"e":82.1},{"a":39.5,"b":64.5,"e":82.8},{"a":40.5,"b":64.5,"e":83.6},{"a":41.5,"b":64.5,"e":84.3},{"a":42.5,"b":64.5,"e":85.0},{"a":43.5,"b":64.5,"e":85.7},{"a":44.5,"b":64.5,"e":86.5},{"a":45.5,"b":64.5,"e":87.2},{"a":46.5,"b":64.5,"e":87.9},{"a":47.5,"b":64.5,"e":88.6},{"a":48.5,"b":64.5,"e":89.4},{"a":49.5,"b":64.5,"e":90.1},
{"a":10.5,"b":66,"e":61.3},{"a":11.5,"b":66,"e":62.1},{"a":12.5,"b":66,"e":62.8},{"a":13.5,"b":66,"e":63.5},{"a":14.5,"b":66,"e":64.3},{"a":15.5,"b":66,"e":65.0},{"a":16.5,"b":66,"e":65.7},{"a":17.5,"b":66,"e":66.5},{"a":18.5,"b":66,"e":67.2},{"a":19.5,"b":66,"e":67.9},{"a":20.5,"b":66,"e":68.7},{"a":21.5,"b":66,"e":69.4},{"a":22.5,"b":66,"e":70.1},{"a":23.5,"b":66,"e":70.9},{"a":24.5,"b":66,"e":71.6},{"a":25.5,"b":66,"e":72.3},{"a":26.5,"b":66,"e":73.1},{"a":27.5,"b":66,"e":73.8},{"a":28.5,"b":66,"e":74.5},{"a":29.5,"b":66,"e":75.3},{"a":30.5,"b":66,"e":76.0},{"a":31.5,"b":66,"e":76.7},{"a":32.5,"b":66,"e":77.5},{"a":33.5,"b":66,"e":78.2},{"a":34.5,"b":66,"e":78.9},{"a":35.5,"b":66,"e":79.7},{"a":36.5,"b":66,"e":80.4},{"a":37.5,"b":66,"e":81.1},{"a":38.5,"b":66,"e":81.9},{"a":39.5,"b":66,"e":82.6},{"a":40.5,"b":66,"e":83.3},{"a":41.5,"b":66,"e":84.1},{"a":42.5,"b":66,"e":84.8},{"a":43.5,"b":66,"e":85.5},{"a":44.5,"b":66,"e":86.3},{"a":45.5,"b":66,"e":87.0},{"a":46.5,"b":66,"e":87.7},{"a":47.5,"b":66,"e":88.5},{"a":48.5,"b":66,"e":89.2},{"a":49.5,"b":66,"e":89.9},
{"a":10.5,"b":67.5,"e":60.9},{"a":11.5,"b":67.5,"e":61.6},{"a":12.5,"b":67.5,"e":62.4},{"a":13.5,"b":67.5,"e":63.1},{"a":14.5,"b":67.5,"e":63.9},{"a":15.5,"b":67.5,"e":64.6},{"a":16.5,"b":67.5,"e":65.4},{"a":17.5,"b":67.5,"e":66.1},{"a":18.5,"b":67.5,"e":66.8},{"a":19.5,"b":67.5,"e":67.6},{"a":20.5,"b":67.5,"e":68.3},{"a":21.5,"b":67.5,"e":69.1},{"a":22.5,"b":67.5,"e":69.8},{"a":23.5,"b":67.5,"e":70.5},{"a":24.5,"b":67.5,"e":71.3},{"a":25.5,"b":67.5,"e":72.0},{"a":26.5,"b":67.5,"e":72.8},{"a":27.5,"b":67.5,"e":73.5},{"a":28.5,"b":67.5,"e":74.2},{"a":29.5,"b":67.5,"e":75.0},{"a":30.5,"b":67.5,"e":75.7},{"a":31.5,"b":67.5,"e":76.5},{"a":32.5,"b":67.5,"e":77.2},{"a":33.5,"b":67.5,"e":77.9},{"a":34.5,"b":67.5,"e":78.7},{"a":35.5,"b":67.5,"e":79.4},{"a":36.5,"b":67.5,"e":80.2},{"a":37.5,"b":67.5,"e":80.9},{"a":38.5,"b":67.5,"e":81.6},{"a":39.5,"b":67.5,"e":82.4},{"a":40.5,"b":67.5,"e":83.1},{"a":41.5,"b":67.5,"e":83.9},{"a":42.5,"b":67.5,"e":84.6},{"a":43.5,"b":67.5,"e":85.3},{"a":44.5,"b":67.5,"e":86.1},{"a":45.5,"b":67.5,"e":86.8},{"a":46.5,"b":67.5,"e":87.6},{"a":47.5,"b":67.5,"e":88.3},{"a":48.5,"b":67.5,"e":89.0},{"a":49.5,"b":67.5,"e":89.8},
{"a":10.5,"b":69,"e":60.5},{"a":11.5,"b":69,"e":61.2},{"a":12.5,"b":69,"e":62.0},{"a":13.5,"b":69,"e":62.7},{"a":14.5,"b":69,"e":63.5},{"a":15.5,"b":69,"e":64.2},{"a":16.5,"b":69,"e":65.0},{"a":17.5,"b":69,"e":65.7},{"a":18.5,"b":69,"e":66.5},{"a":19.5,"b":69,"e":67.2},{"a":20.5,"b":69,"e":68.0},{"a":21.5,"b":69,"e":68.7},{"a":22.5,"b":69,"e":69.5},{"a":23.5,"b":69,"e":70.2},{"a":24.5,"b":69,"e":70.9},{"a":25.5,"b":69,"e":71.7},{"a":26.5,"b":69,"e":72.4},{"a":27.5,"b":69,"e":73.2},{"a":28.5,"b":69,"e":73.9},{"a":29.5,"b":69,"e":74.7},{"a":30.5,"b":69,"e":75.4},{"a":31.5,"b":69,"e":76.2},{"a":32.5,"b":69,"e":76.9},{"a":33.5,"b":69,"e":77.7},{"a":34.5,"b":69,"e":78.4},{"a":35.5,"b":69,"e":79.2},{"a":36.5,"b":69,"e":79.9},{"a":37.5,"b":69,"e":80.7},{"a":38.5,"b":69,"e":81.4},{"a":39.5,"b":69,"e":82.2},{"a":40.5,"b":69,"e":82.9},{"a":41.5,"b":69,"e":83.7},{"a":42.5,"b":69,"e":84.4},{"a":43.5,"b":69,"e":85.1},{"a":44.5,"b":69,"e":85.9},{"a":45.5,"b":69,"e":86.6},{"a":46.5,"b":69,"e":87.4},{"a":47.5,"b":69,"e":88.1},{"a":48.5,"b":69,"e":88.9},{"a":49.5,"b":69,"e":89.6},
{"a":10.5,"b":70.5,"e":60.1},{"a":11.5,"b":70.5,"e":60.8},{"a":12.5,"b":70.5,"e":61.6},{"a":13.5,"b":70.5,"e":62.3},{"a":14.5,"b":70.5,"e":63.1},{"a":15.5,"b":70.5,"e":63.8},{"a":16.5,"b":70.5,"e":64.6},{"a":17.5,"b":70.5,"e":65.3},{"a":18.5,"b":70.5,"e":66.1},{"a":19.5,"b":70.5,"e":66.8},{"a":20.5,"b":70.5,"e":67.6},{"a":21.5,"b":70.5,"e":68.4},{"a":22.5,"b":70.5,"e":69.1},{"a":23.5,"b":70.5,"e":69.9},{"a":24.5,"b":70.5,"e":70.6},{"a":25.5,"b":70.5,"e":71.4},{"a":26.5,"b":70.5,"e":72.1},{"a":27.5,"b":70.5,"e":72.9},{"a":28.5,"b":70.5,"e":73.6},{"a":29.5,"b":70.5,"e":74.4},{"a":30.5,"b":70.5,"e":75.1},{"a":31.5,"b":70.5,"e":75.9},{"a":32.5,"b":70.5,"e":76.7},{"a":33.5,"b":70.5,"e":77.4},{"a":34.5,"b":70.5,"e":78.2},{"a":35.5,"b":70.5,"e":78.9},{"a":36.5,"b":70.5,"e":79.7},{"a":37.5,"b":70.5,"e":80.4},{"a":38.5,"b":70.5,"e":81.2},{"a":39.5,"b":70.5,"e":81.9},{"a":40.5,"b":70.5,"e":82.7},{"a":41.5,"b":70.5,"e":83.4},{"a":42.5,"b":70.5,"e":84.2},{"a":43.5,"b":70.5,"e":85.0},{"a":44.5,"b":70.5,"e":85.7},{"a":45.5,"b":70.5,"e":86.5},{"a":46.5,"b":70.5,"e":87.2},{"a":47.5,"b":70.5,"e":88.0},{"a":48.5,"b":70.5,"e":88.7},{"a":49.5,"b":70.5,"e":89.5},
{"a":10.5,"b":72,"e":59.6},{"a":11.5,"b":72,"e":60.4},{"a":12.5,"b":72,"e":61.2},{"a":13.5,"b":72,"e":61.9},{"a":14.5,"b":72,"e":62.7},{"a":15.5,"b":72,"e":63.4},{"a":16.5,"b":72,"e":64.2},{"a":17.5,"b":72,"e":65.0},{"a":18.5,"b":72,"e":65.7},{"a":19.5,"b":72,"e":66.5},{"a":20.5,"b":72,"e":67.2},{"a":21.5,"b":72,"e":68.0},{"a":22.5,"b":72,"e":68.8},{"a":23.5,"b":72,"e":69.5},{"a":24.5,"b":72,"e":70.3},{"a":25.5,"b":72,"e":71.1},{"a":26.5,"b":72,"e":71.8},{"a":27.5,"b":72,"e":72.6},{"a":28.5,"b":72,"e":73.3},{"a":29.5,"b":72,"e":74.1},{"a":30.5,"b":72,"e":74.9},{"a":31.5,"b":72,"e":75.6},{"a":32.5,"b":72,"e":76.4},{"a":33.5,"b":72,"e":77.1},{"a":34.5,"b":72,"e":77.9},{"a":35.5,"b":72,"e":78.7},{"a":36.5,"b":72,"e":79.4},{"a":37.5,"b":72,"e":80.2},{"a":38.5,"b":72,"e":80.9},{"a":39.5,"b":72,"e":81.7},{"a":40.5,"b":72,"e":82.5},{"a":41.5,"b":72,"e":83.2},{"a":42.5,"b":72,"e":84.0},{"a":43.5,"b":72,"e":84.8},{"a":44.5,"b":72,"e":85.5},{"a":45.5,"b":72,"e":86.3},{"a":46.5,"b":72,"e":87.0},{"a":47.5,"b":72,"e":87.8},{"a":48.5,"b":72,"e":88.6},{"a":49.5,"b":72,"e":89.3},
{"a":10.5,"b":73.5,"e":59.2},{"a":11.5,"b":73.5,"e":60.0},{"a":12.5,"b":73.5,"e":60.7},{"a":13.5,"b":73.5,"e":61.5},{"a":14.5,"b":73.5,"e":62.3},{"a":15.5,"b":73.5,"e":63.1},{"a":16.5,"b":73.5,"e":63.8},{"a":17.5,"b":73.5,"e":64.6},{"a":18.5,"b":73.5,"e":65.4},{"a":19.5,"b":73.5,"e":66.1},{"a":20.5,"b":73.5,"e":66.9},{"a":21.5,"b":73.5,"e":67.7},{"a":22.5,"b":73.5,"e":68.4},{"a":23.5,"b":73.5,"e":69.2},{"a":24.5,"b":73.5,"e":70.0},{"a":25.5,"b":73.5,"e":70.7},{"a":26.5,"b":73.5,"e":71.5},{"a":27.5,"b":73.5,"e":72.3},{"a":28.5,"b":73.5,"e":73.0},{"a":29.5,"b":73.5,"e":73.8},{"a":30.5,"b":73.5,"e":74.6},{"a":31.5,"b":73.5,"e":75.3},{"a":32.5,"b":73.5,"e":76.1},{"a":33.5,"b":73.5,"e":76.9},{"a":34.5,"b":73.5,"e":77.6},{"a":35.5,"b":73.5,"e":78.4},{"a":36.5,"b":73.5,"e":79.2},{"a":37.5,"b":73.5,"e":80.0},{"a":38.5,"b":73.5,"e":80.7},{"a":39.5,"b":73.5,"e":81.5},{"a":40.5,"b":73.5,"e":82.3},{"a":41.5,"b":73.5,"e":83.0},{"a":42.5,"b":73.5,"e":83.8},{"a":43.5,"b":73.5,"e":84.6},{"a":44.5,"b":73.5,"e":85.3},{"a":45.5,"b":73.5,"e":86.1},{"a":46.5,"b":73.5,"e":86.9},{"a":47.5,"b":73.5,"e":87.6},{"a":48.5,"b":73.5,"e":88.4},{"a":49.5,"b":73.5,"e":89.2},
{"a":10.5,"b":75,"e":58.8},{"a":11.5,"b":75,"e":59.6},{"a":12.5,"b":75,"e":60.3},{"a":13.5,"b":75,"e":61.1},{"a":14.5,"b":75,"e":61.9},{"a":15.5,"b":75,"e":62.7},{"a":16.5,"b":75,"e":63.4},{"a":17.5,"b":75,"e":64.2},{"a":18.5,"b":75,"e":65.0},{"a":19.5,"b":75,"e":65.8},{"a":20.5,"b":75,"e":66.5},{"a":21.5,"b":75,"e":67.3},{"a":22.5,"b":75,"e":68.1},{"a":23.5,"b":75,"e":68.9},{"a":24.5,"b":75,"e":69.6},{"a":25.5,"b":75,"e":70.4},{"a":26.5,"b":75,"e":71.2},{"a":27.5,"b":75,"e":72.0},{"a":28.5,"b":75,"e":72.7},{"a":29.5,"b":75,"e":73.5},{"a":30.5,"b":75,"e":74.3},{"a":31.5,"b":75,"e":75.1},{"a":32.5,"b":75,"e":75.8},{"a":33.5,"b":75,"e":76.6},{"a":34.5,"b":75,"e":77.4},{"a":35.5,"b":75,"e":78.2},{"a":36.5,"b":75,"e":78.9},{"a":37.5,"b":75,"e":79.7},{"a":38.5,"b":75,"e":80.5},{"a":39.5,"b":75,"e":81.3},{"a":40.5,"b":75,"e":82.0},{"a":41.5,"b":75,"e":82.8},{"a":42.5,"b":75,"e":83.6},{"a":43.5,"b":75,"e":84.4},{"a":44.5,"b":75,"e":85.1},{"a":45.5,"b":75,"e":85.9},{"a":46.5,"b":75,"e":86.7},{"a":47.5,"b":75,"e":87.5},{"a":48.5,"b":75,"e":88.2},{"a":49.5,"b":75,"e":89.0}
],
"contours":[
{"lv":"60","a":10.0,"b":69.0},{"lv":"60","a":10.5,"b":70.4},{"lv":"60","a":11.0,"b":71.8},{"lv":"60","a":11.6,"b":73.4},{"lv":"60","a":12.2,"b":75.0},
{"lv":"70","a":10.0,"b":34.3},{"lv":"70","a":12.65,"b":40},{"lv":"70","a":14.79,"b":45},{"lv":"70","a":16.78,"b":50},{"lv":"70","a":18.64,"b":55},{"lv":"70","a":20.38,"b":60},{"lv":"70","a":22.0,"b":65},{"lv":"70","a":23.53,"b":70},{"lv":"70","a":24.97,"b":75},
{"lv":"80","a":19.02,"b":15},{"lv":"80","a":21.35,"b":20},{"lv":"80","a":23.49,"b":25},{"lv":"80","a":25.45,"b":30},{"lv":"80","a":27.26,"b":35},{"lv":"80","a":28.93,"b":40},{"lv":"80","a":30.49,"b":45},{"lv":"80","a":31.93,"b":50},{"lv":"80","a":33.28,"b":55},{"lv":"80","a":34.54,"b":60},{"lv":"80","a":35.72,"b":65},{"lv":"80","a":36.83,"b":70},{"lv":"80","a":37.87,"b":75},
{"lv":"90","a":39.06,"b":15},{"lv":"90","a":40.51,"b":20},{"lv":"90","a":41.83,"b":25},{"lv":"90","a":43.05,"b":30},{"lv":"90","a":44.18,"b":35},{"lv":"90","a":45.22,"b":40},{"lv":"90","a":46.19,"b":45},{"lv":"90","a":47.08,"b":50},{"lv":"90","a":47.92,"b":55},{"lv":"90","a":48.7,"b":60},{"lv":"90","a":49.4,"b":65},{"lv":"90","a":49.95,"b":70},{"lv":"90","a":50.5,"b":75}
],
"labels":[
{"a":11.1,"b":73.1,"t":"60"},{"a":18.3,"b":55.1,"t":"70"},{"a":29.7,"b":43.9,"t":"80"},{"a":45.3,"b":42.4,"t":"90"}
]},
"layer":[
{"data":{"name":"grid"},
"mark":{"type":"rect","binSpacing":0,"strokeWidth":0.8,"clip":true},
"encoding":{
"x":{"field":"a","type":"quantitative","bin":{"step":1,"extent":[10,50],"nice":false},"scale":{"domain":[10,50],"nice":false,"zero":false},"title":"A: Mash Quantity (kg)","axis":{"values":[10,20,30,40,50],"labelPadding":12,"titleX":331,"titleY":125,"titleBaseline":"middle","titleAlign":"center"}},
"y":{"field":"b","type":"quantitative","bin":{"step":1.5,"extent":[14.25,75.75],"nice":false},"scale":{"domain":[15,75],"nice":false,"zero":false},"title":"B: Frying Time (mins)","axis":{"values":[15,25,35,45,55,65,75],"labelPadding":8,"titleAngle":-90,"titleX":-120,"titleY":334,"titleBaseline":"middle","titleAlign":"center"}},
"color":{"aggregate":"mean","field":"e","type":"quantitative","legend":null,"scale":{"domain":[56.5,64,74,84.5,92.5],"range":["#0000ff","#00ffff","#00ff00","#ffff00","#ff0000"],"interpolate":"rgb","clamp":true}},
"stroke":{"aggregate":"mean","field":"e","type":"quantitative","legend":null,"scale":{"domain":[56.5,64,74,84.5,92.5],"range":["#0000ff","#00ffff","#00ff00","#ffff00","#ff0000"],"interpolate":"rgb","clamp":true}}}},
{"data":{"name":"contours"},
"mark":{"type":"line","color":"black","strokeWidth":1,"clip":true,"interpolate":"monotone"},
"encoding":{
"x":{"field":"a","type":"quantitative","title":"A: Mash Quantity (kg)"},
"y":{"field":"b","type":"quantitative","title":"B: Frying Time (mins)"},
"detail":{"field":"lv"},
"order":{"field":"b","type":"quantitative"}}},
{"data":{"name":"labels"},
"mark":{"type":"point","shape":"M-1.35,-1H1.35V1H-1.35Z","size":576,"filled":true,"fill":"white","stroke":"black","strokeWidth":1,"opacity":1},
"encoding":{
"x":{"field":"a","type":"quantitative","title":"A: Mash Quantity (kg)"},
"y":{"field":"b","type":"quantitative","title":"B: Frying Time (mins)"}}},
{"data":{"name":"labels"},
"mark":{"type":"text","font":"Liberation Sans","fontSize":21,"color":"black","align":"center","baseline":"middle","dy":1},
"encoding":{
"x":{"field":"a","type":"quantitative","title":"A: Mash Quantity (kg)"},
"y":{"field":"b","type":"quantitative","title":"B: Frying Time (mins)"},
"text":{"field":"t"}}}
]
}
